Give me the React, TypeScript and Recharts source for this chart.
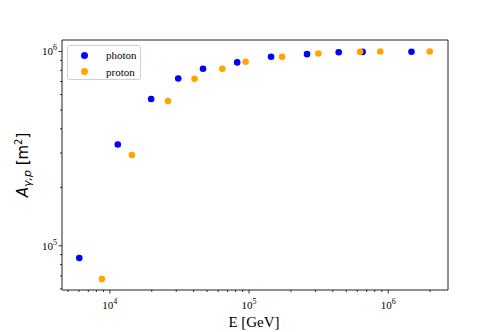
import { ScatterChart, Scatter, XAxis, YAxis, ReferenceArea } from 'recharts';

const photonE = [6030, 11400, 19800, 31000, 46700, 82200, 144000, 261000, 441000, 655000, 1470000];
const photonA = [86500, 332000, 569000, 726000, 815000, 879000, 939000, 969000, 992000, 995000, 997000];
const protonE = [8770, 14400, 26200, 40600, 64300, 94400, 173000, 315000, 627000, 877000, 1990000];
const protonA = [67400, 293000, 556000, 724000, 815000, 886000, 939000, 977000, 996000, 1000000, 1000000];

const X_DOMAIN = [4530, 2690000];
const Y_DOMAIN = [59200, 1146000];
const X_TICKS = [5000, 6000, 7000, 8000, 9000, 10000, 20000, 30000, 40000, 50000, 60000, 70000, 80000, 90000,
  100000, 200000, 300000, 400000, 500000, 600000, 700000, 800000, 900000, 1000000, 2000000];
const Y_TICKS = [60000, 70000, 80000, 90000, 100000, 200000, 300000, 400000, 500000, 600000, 700000, 800000, 900000, 1000000];

const SERIES = [
  { name: 'photon', color: '#0000ff', data: photonE.map((e, i) => ({ e, a: photonA[i] })) },
  { name: 'proton', color: '#ffa500', data: protonE.map((e, i) => ({ e, a: protonA[i] })) },
];

const SERIF = '"Liberation Serif", "Times New Roman", serif';
const SANS = '"DejaVu Sans", sans-serif';

const isMajor = (v: number) => {
  const e = Math.log10(v);
  return Math.abs(e - Math.round(e)) < 1e-6;
};

const XTick = ({ x, y, payload }: any) => {
  const major = isMajor(payload.value);
  return (
    <g>
      <line x1={x} x2={x} y1={y} y2={y + (major ? 3.5 : 2)} stroke="#000" strokeWidth={0.8} />
      {major && (
        <text x={x} y={y + 19} textAnchor="middle" fontFamily={SERIF} fontSize={11} fill="#000">
          10<tspan dy={-5} fontSize={8}>{Math.round(Math.log10(payload.value))}</tspan>
        </text>
      )}
    </g>
  );
};

const YTick = ({ x, y, payload }: any) => {
  const major = isMajor(payload.value);
  return (
    <g>
      <line x1={x} x2={x - (major ? 3.5 : 2)} y1={y} y2={y} stroke="#000" strokeWidth={0.8} />
      {major && (
        <text x={x - 5} y={y + 4} textAnchor="end" fontFamily={SERIF} fontSize={11} fill="#000">
          10<tspan dy={-5} fontSize={8}>{Math.round(Math.log10(payload.value))}</tspan>
        </text>
      )}
    </g>
  );
};

const Dot = (color: string) => (props: any) => <circle cx={props.cx} cy={props.cy} r={3.3} fill={color} />;

export default function App() {
  return (
    <div style={{ position: 'absolute', left: 0, top: 0, width: 498, height: 332, background: '#fff' }}>
      <ScatterChart width={498} height={332} margin={{ top: 40, right: 50, bottom: 0, left: 0 }}>
        <XAxis
          type="number" dataKey="e" scale="log" domain={X_DOMAIN} allowDataOverflow ticks={X_TICKS}
          interval={0} axisLine={false} tickLine={false} tickSize={0} tickMargin={0} height={42} tick={<XTick />}
          label={{
            content: () => (
              <text x={254} y={327} textAnchor="middle" fontFamily={SERIF} fontSize={15} fill="#000">E [GeV]</text>
            ),
          }}
        />
        <YAxis
          type="number" dataKey="a" scale="log" domain={Y_DOMAIN} allowDataOverflow ticks={Y_TICKS}
          interval={0} axisLine={false} tickLine={false} tickSize={0} tickMargin={0} width={62} tick={<YTick />}
          label={{
            content: () => (
              <text x={28} y={165} transform="rotate(-90, 28, 165)" textAnchor="middle" fontFamily={SANS} fontSize={15} fill="#000">
                <tspan fontStyle="italic">A</tspan>
                <tspan fontStyle="italic" fontSize={11} dy={3}>γ,p</tspan>
                <tspan dy={-3}> [m</tspan>
                <tspan fontSize={10} dy={-6}>2</tspan>
                <tspan dy={6}>]</tspan>
              </text>
            ),
          }}
        />
        <ReferenceArea x1={X_DOMAIN[0]} x2={X_DOMAIN[1]} y1={Y_DOMAIN[0]} y2={Y_DOMAIN[1]}
          fill="none" stroke="#222" strokeWidth={1} fillOpacity={0} ifOverflow="visible" />
        {SERIES.map((s) => (
          <Scatter key={s.name} name={s.name} data={s.data} fill={s.color} shape={Dot(s.color)} isAnimationActive={false} />
        ))}
      </ScatterChart>
      <div style={{
        position: 'absolute', left: 67, top: 45, width: 74, height: 35, boxSizing: 'border-box',
        border: '1px solid #d0d0d0', borderRadius: 3, background: 'rgba(255,255,255,0.8)',
        fontFamily: SERIF, fontSize: 11, color: '#000',
      }}>
        {SERIES.map((s, i) => (
          <div key={s.name} style={{ position: 'absolute', left: 0, top: 2 + i * 16.5, height: 14, display: 'flex', alignItems: 'center' }}>
            <span style={{ position: 'absolute', left: 13, width: 7, height: 7, borderRadius: '50%', background: s.color }} />
            <span style={{ position: 'absolute', left: 38, whiteSpace: 'nowrap', lineHeight: '14px' }}>{s.name}</span>
          </div>
        ))}
      </div>
    </div>
  );
}
